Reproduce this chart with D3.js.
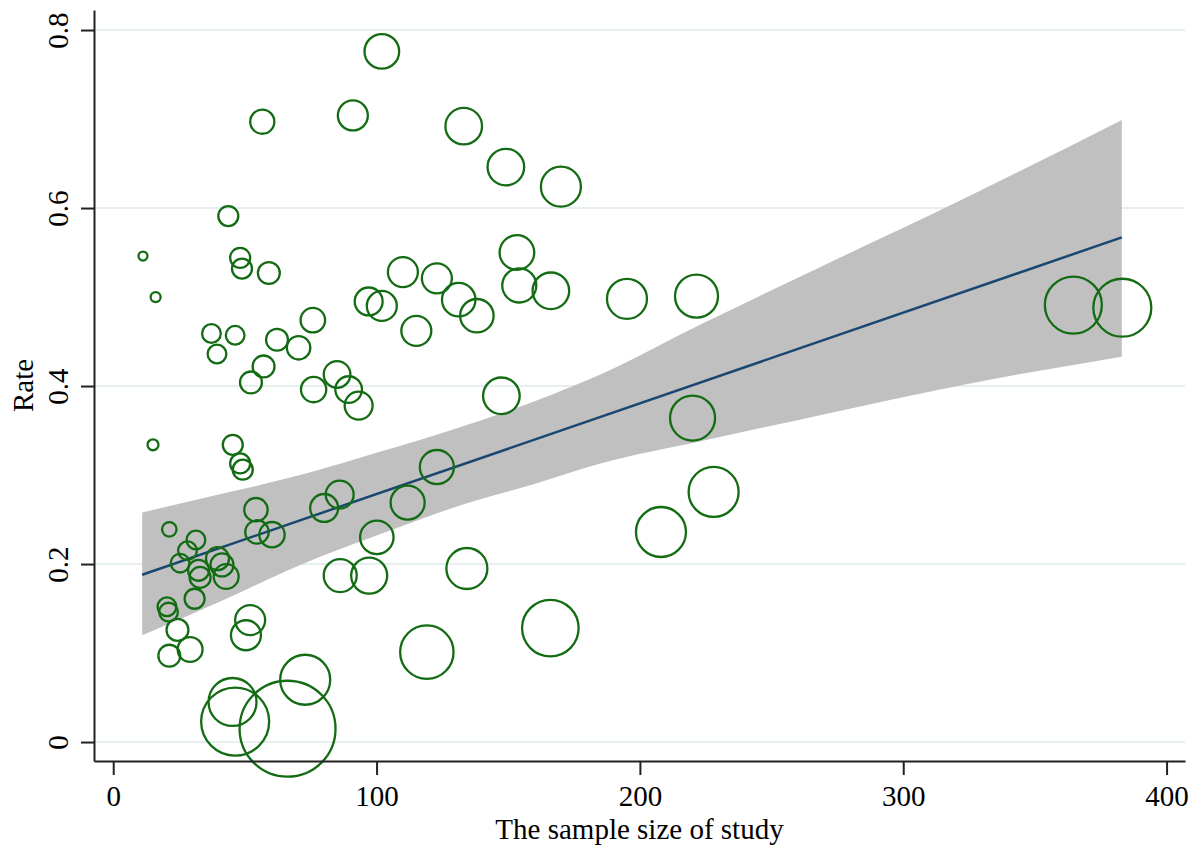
<!DOCTYPE html>
<html>
<head>
<meta charset="utf-8">
<script src="https://cdn.jsdelivr.net/npm/d3@7"></script>
<style>
  html, body { margin: 0; padding: 0; background: #fff; }
  svg { display: block; }
  text { font-family: "Liberation Serif", "Times New Roman", serif; fill: #000; }
</style>
</head>
<body>
<svg id="chart" width="1203" height="852"></svg>
<script>
// ---- data ----
const sampleSize = [11.3, 16.1, 15.1, 21.3, 31.4, 28.2, 25.4, 39.6, 41.3, 42.9,
  32.4, 33.0, 30.9, 20.4, 21.0, 24.4, 21.3, 29.2, 52.0, 50.4,
  54.2, 54.6, 60.3, 80.1, 86.0, 86.2, 97.2, 100.1, 111.8, 122.9,
  134.3, 72.9, 45.3, 46.3, 66.2, 119.1, 166.0, 208.0, 228.0, 220.0,
  147.4, 93.2, 89.4, 85.0, 76.1, 52.3, 57.1, 45.4, 48.2, 49.2,
  37.3, 46.3, 39.4, 62.2, 70.4, 75.8, 43.7, 48.2, 48.9, 59.1,
  56.6, 91.0, 102.0, 133.1, 149.1, 170.0, 153.3, 154.2, 166.2, 195.1,
  221.5, 110.0, 122.9, 97.0, 102.0, 131.2, 138.1, 115.1, 364.6, 383.2];
const rate = [0.546, 0.500, 0.334, 0.239, 0.227, 0.215, 0.201, 0.206, 0.199, 0.186,
  0.193, 0.185, 0.161, 0.152, 0.146, 0.126, 0.097, 0.104, 0.137, 0.120,
  0.261, 0.236, 0.233, 0.263, 0.278, 0.187, 0.187, 0.230, 0.269, 0.309,
  0.195, 0.070, 0.045, 0.023, 0.015, 0.101, 0.128, 0.236, 0.281, 0.364,
  0.389, 0.378, 0.396, 0.413, 0.396, 0.404, 0.422, 0.334, 0.313, 0.306,
  0.459, 0.457, 0.436, 0.452, 0.443, 0.474, 0.591, 0.544, 0.532, 0.527,
  0.697, 0.704, 0.776, 0.692, 0.646, 0.624, 0.550, 0.513, 0.507, 0.498,
  0.501, 0.528, 0.521, 0.495, 0.490, 0.497, 0.479, 0.462, 0.491, 0.488];
const weight = [0.8, 1.0, 1.2, 2.1, 3.5, 3.5, 3.5, 5.3, 5.3, 6.2,
  4.4, 4.4, 4.0, 3.5, 3.5, 4.8, 4.8, 6.2, 9.0, 9.0,
  5.5, 5.5, 6.4, 7.8, 7.8, 10.9, 13.0, 11.2, 11.6, 11.6,
  16.8, 25.0, 23.0, 46.2, 92.0, 28.5, 32.0, 25.0, 25.0, 20.3,
  13.4, 7.8, 7.1, 7.1, 6.4, 4.8, 4.8, 4.0, 4.0, 4.0,
  3.5, 3.5, 3.5, 4.8, 5.5, 6.0, 4.0, 4.0, 4.0, 4.8,
  5.8, 9.0, 12.0, 13.4, 13.4, 16.0, 12.0, 11.6, 13.4, 16.0,
  18.5, 9.0, 9.0, 7.8, 9.0, 11.2, 11.2, 9.0, 32.5, 33.6];

// fitted line and 95% CI band
const fitX = [11, 383];
const fitY = [0.188, 0.567];
const bandX = [11, 40, 71, 100, 134, 160, 185, 223, 268, 322, 383];
const bandUpper = [0.258, 0.278, 0.300, 0.325, 0.356, 0.383, 0.413, 0.469, 0.533, 0.609, 0.699];
const bandLower = [0.120, 0.157, 0.199, 0.232, 0.268, 0.290, 0.313, 0.338, 0.367, 0.401, 0.433];

const xTicks = [0, 100, 200, 300, 400];
const yTicks = [0, 0.2, 0.4, 0.6, 0.8];
const xTitle = "The sample size of study";
const yTitle = "Rate";

// ---- drawing ----
const svg = d3.select("#chart");
const x = d3.scaleLinear().domain([-7.3, 407]).range([94, 1185]);
const y = d3.scaleLinear().domain([-0.0213, 0.8225]).range([761, 10]);
const r = d3.scaleSqrt().domain([0, 100]).range([0, 50]);

// gridlines
svg.append("g").selectAll("line").data(yTicks).join("line")
  .attr("x1", x.range()[0]).attr("x2", x.range()[1])
  .attr("y1", d => y(d)).attr("y2", d => y(d))
  .attr("stroke", "#e6eef0").attr("stroke-width", 2);

// CI band
const band = bandX.map((v, i) => ({ x: v, lo: bandLower[i], hi: bandUpper[i] }));
svg.append("path").datum(band)
  .attr("d", d3.area().curve(d3.curveMonotoneX).x(d => x(d.x)).y0(d => y(d.lo)).y1(d => y(d.hi)))
  .attr("fill", "#c0c0c0");

// fitted line
const fit = fitX.map((v, i) => ({ x: v, y: fitY[i] }));
svg.append("path").datum(fit)
  .attr("d", d3.line().x(d => x(d.x)).y(d => y(d.y)))
  .attr("fill", "none").attr("stroke", "#1a476f").attr("stroke-width", 2.5);

// bubbles
const pts = sampleSize.map((v, i) => ({ x: v, y: rate[i], w: weight[i] }));
svg.append("g").selectAll("circle").data(pts).join("circle")
  .attr("cx", d => x(d.x)).attr("cy", d => y(d.y)).attr("r", d => r(d.w))
  .attr("fill", "none").attr("stroke", "#136c13").attr("stroke-width", 2.3);

// axes
const fontSize = 29;
const xAxis = svg.append("g").attr("transform", `translate(0,${y.range()[0]})`)
  .call(d3.axisBottom(x).tickValues(xTicks).tickSize(14).tickSizeOuter(0).tickFormat(d3.format("d")));
xAxis.select(".domain").attr("stroke", "#222").attr("stroke-width", 2);
xAxis.selectAll(".tick line").attr("stroke", "#222").attr("stroke-width", 2);
xAxis.selectAll(".tick text").attr("y", 45).attr("dy", 0)
  .style("font-size", fontSize + "px").style("font-family", "Liberation Serif, serif").attr("fill", "#000");

const yAxis = svg.append("g").attr("transform", `translate(${x.range()[0]},0)`)
  .call(d3.axisLeft(y).tickValues(yTicks).tickSize(13).tickSizeOuter(0).tickFormat(d => d === 0 ? "0" : d3.format(".1f")(d)));
yAxis.select(".domain").attr("stroke", "#222").attr("stroke-width", 2);
yAxis.selectAll(".tick line").attr("stroke", "#222").attr("stroke-width", 2);
yAxis.selectAll(".tick text")
  .attr("x", 0).attr("y", -26).attr("dy", 0)
  .attr("transform", "rotate(-90)")
  .attr("text-anchor", "middle")
  .style("font-size", fontSize + "px").style("font-family", "Liberation Serif, serif").attr("fill", "#000");

// titles
svg.append("text")
  .attr("x", (x.range()[0] + x.range()[1]) / 2).attr("y", 839)
  .attr("text-anchor", "middle").style("font-size", fontSize + "px")
  .text(xTitle);
svg.append("text")
  .attr("transform", `translate(33,${(y.range()[0] + y.range()[1]) / 2}) rotate(-90)`)
  .attr("text-anchor", "middle").style("font-size", fontSize + "px")
  .text(yTitle);
</script>
</body>
</html>
